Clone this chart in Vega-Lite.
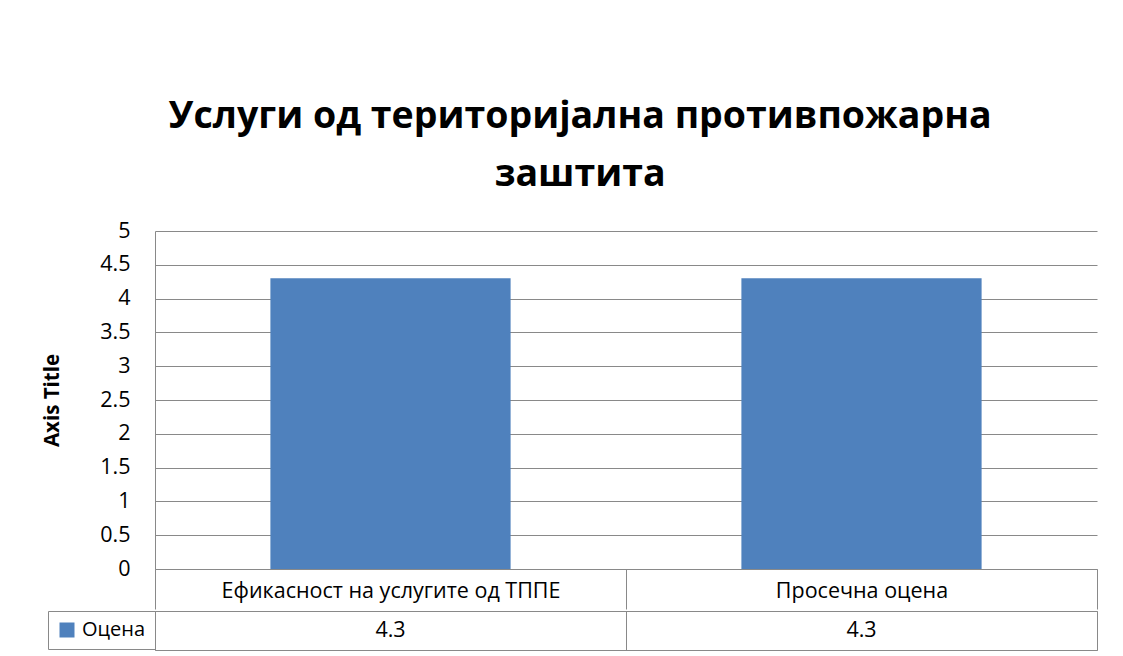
{
  "$schema": "https://vega.github.io/schema/vega-lite/v6.json",
  "background": "white",
  "padding": {"left": 42, "top": 98, "right": 10, "bottom": 5},
  "title": {
    "text": ["Услуги од територијална противпожарна", "заштита"],
    "font": "Open Sans",
    "fontSize": 37.5,
    "fontWeight": "bold",
    "lineHeight": 58,
    "color": "black",
    "anchor": "middle",
    "dx": 10,
    "offset": 26.5
  },
  "config": {
    "font": "Open Sans",
    "axis": {"labelFont": "Open Sans", "titleFont": "Open Sans"},
    "legend": {"labelFont": "Open Sans"}
  },
  "resolve": {"scale": {"color": "independent"}},
  "spacing": 0,
  "datasets": {
    "rows": [
      {"cat": "Ефикасност на услугите од ТППЕ", "value": 4.3, "series": "Оцена"},
      {"cat": "Просечна оцена", "value": 4.3, "series": "Оцена"}
    ]
  },
  "vconcat": [
    {
      "width": 942,
      "height": 338,
      "view": {"stroke": null},
      "data": {"name": "rows"},
      "mark": {"type": "bar", "width": {"band": 0.51}, "color": "#4F81BD"},
      "encoding": {
        "x": {
          "field": "cat", "type": "nominal", "sort": null,
          "scale": {"paddingInner": 0, "paddingOuter": 0},
          "axis": {
            "title": null, "labelAngle": 0, "labelFontSize": 21.5, "labelColor": "black",
            "labelLimit": 0, "domainColor": "#898989", "tickColor": "#898989",
            "tickBand": "extent", "tickSize": 40, "labelPadding": -29, "labelBaseline": "top"
          }
        },
        "y": {
          "field": "value", "type": "quantitative",
          "scale": {"domain": [0, 5], "nice": false},
          "axis": {
            "values": [0, 0.5, 1, 1.5, 2, 2.5, 3, 3.5, 4, 4.5, 5],
            "format": "~g",
            "title": "Axis Title", "titleFontSize": 20.5, "titleFontWeight": "bold", "titleColor": "black",
            "titlePadding": 37,
            "labelFontSize": 21.5, "labelColor": "black", "ticks": false, "labelPadding": 25,
            "domainColor": "#898989", "gridColor": "#898989"
          }
        }
      }
    },
    {
      "width": 942,
      "height": 39,
      "view": {"stroke": "#898989"},
      "data": {"name": "rows"},
      "encoding": {
        "x": {
          "field": "cat", "type": "nominal", "sort": null,
          "scale": {"paddingInner": 0, "paddingOuter": 0},
          "axis": {"title": null, "labels": false, "ticks": false, "domain": false, "grid": true, "tickBand": "extent", "gridColor": "#898989"}
        }
      },
      "layer": [
        {
          "mark": {"type": "text", "fontSize": 21.5, "color": "black"},
          "encoding": {
            "text": {"field": "value", "type": "quantitative", "format": ".1f"}
          }
        },
        {
          "transform": [{"filter": "false"}],
          "mark": {"type": "square"},
          "encoding": {
            "color": {
              "field": "series", "type": "nominal",
              "scale": {"domain": ["Оцена"], "range": ["#4F81BD"]},
              "legend": {
                "title": null, "orient": "left", "offset": 0, "strokeColor": "#898989",
                "padding": 9, "symbolType": "square", "symbolSize": 225, "symbolStrokeWidth": 0,
                "symbolOpacity": 1,
                "labelFontSize": 20, "labelColor": "black", "labelOffset": 5
              }
            }
          }
        }
      ]
    }
  ]
}
